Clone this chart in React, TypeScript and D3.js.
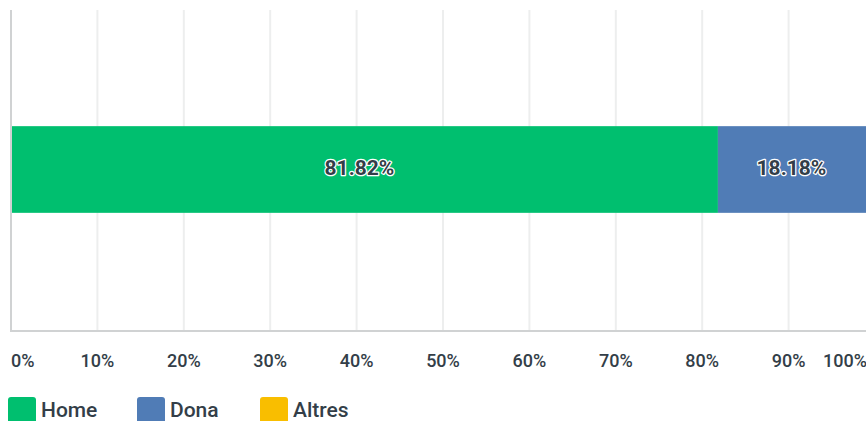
import React from "react";
import * as d3 from "d3";

const categories = ["Home", "Dona", "Altres"];
const values = [81.82, 18.18, 0];
const colors = ["#00BF6F", "#507CB6", "#F9BE00"];
const ticks = [0, 10, 20, 30, 40, 50, 60, 70, 80, 90, 100];

const W = 866;
const H = 421;
const left = 11;
const right = 875;
const top = 10;
const bottom = 331;

export default function App() {
  const x = d3.scaleLinear().domain([0, 100]).range([left, right]);
  const y = d3.scaleBand().domain(["q"]).range([top - 1, bottom - 1]).paddingInner(0.73).paddingOuter(0.365);
  const stacked: { start: number; end: number; v: number; c: string }[] = [];
  let acc = 0;
  values.forEach((v, i) => {
    stacked.push({ start: acc, end: acc + v, v, c: colors[i] });
    acc += v;
  });
  const font = "Roboto, 'Open Sans', sans-serif";
  const textColor = "#333E48";
  const legendX = [8, 137, 260];
  return (
    <svg width={W} height={H} style={{ position: "absolute", left: 0, top: 0, background: "#fff" }}>
      {ticks.slice(1).map((t) => (
        <line key={t} x1={x(t)} x2={x(t)} y1={top} y2={bottom} stroke="#EDEEEE" strokeWidth={2} />
      ))}
      {stacked.filter((s) => s.v > 0).map((s, i) => (
        <rect key={i} x={x(s.start)} y={y("q")} width={x(s.end) - x(s.start)} height={y.bandwidth()} fill={s.c} />
      ))}
      <line x1={left} x2={W} y1={bottom} y2={bottom} stroke="#D0D2D3" strokeWidth={2} />
      <line x1={left} x2={left} y1={top} y2={bottom + 1} stroke="#D0D2D3" strokeWidth={2} />
      {stacked.filter((s) => s.v > 0).map((s, i) => (
        <text
          key={i}
          x={(x(s.start) + x(s.end)) / 2 - 5}
          y={(y("q") as number) + y.bandwidth() / 2 - 2}
          dy="0.35em"
          textAnchor="middle"
          fontFamily={font}
          fontWeight={700}
          fontSize={21}
          letterSpacing={0}
          fill={textColor}
          stroke="#fff"
          strokeWidth={2.5}
          paintOrder="stroke"
          strokeLinejoin="round"
        >
          {s.v.toFixed(2)}%
        </text>
      ))}
      {ticks.map((t, i) => {
        let anchor = "middle";
        let tx = x(t);
        if (i === 0) { anchor = "start"; tx = left; }
        if (i === ticks.length - 1) { anchor = "start"; tx = x(t) - 52; }
        return (
          <text key={t} x={tx} y={367} textAnchor={anchor} fontFamily={font} fontWeight={500} fontSize={18} fill={textColor}>
            {t}%
          </text>
        );
      })}
      {categories.map((c, i) => (
        <g key={c}>
          <rect x={legendX[i]} y={397} width={28} height={28} rx={3} fill={colors[i]} />
          <text x={legendX[i] + 33} y={417} fontFamily={font} fontWeight={500} fontSize={21} fill={textColor}>
            {c}
          </text>
        </g>
      ))}
    </svg>
  );
}
